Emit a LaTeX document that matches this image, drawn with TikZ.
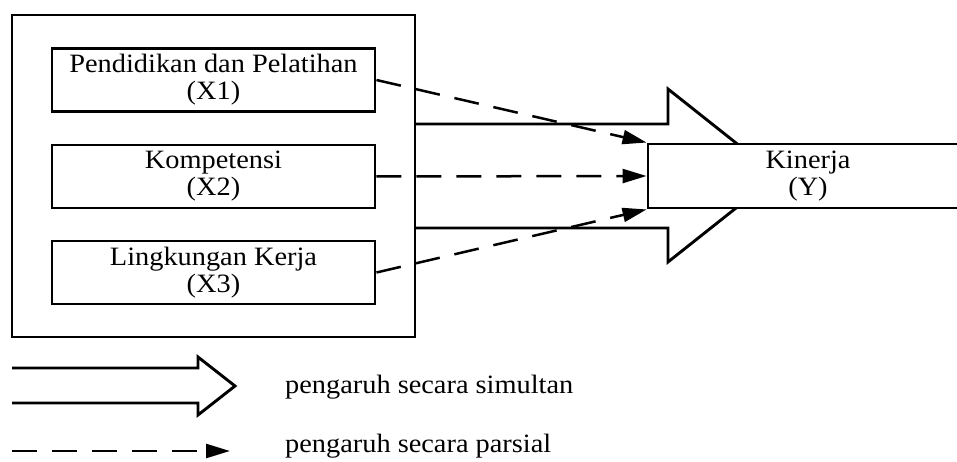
\documentclass[tikz,border=0pt]{standalone}
\usepackage{fontspec}
\setmainfont{Liberation Serif}[FakeStretch=1.07]
\usetikzlibrary{arrows.meta}

\tikzset{
  box/.style={draw, line width=2.9pt, fill=white, align=center,
              font=\fontsize{26.5}{27}\selectfont, inner sep=0pt},
  varbox/.style={box, minimum width=323pt, minimum height=63pt},
  fatarrow/.style={draw, line width=2.9pt, line join=miter},
  partial/.style={line width=2.5pt, dash pattern=on 25pt off 15pt,
                  -{Triangle[length=24pt,width=14pt]}},
  legendtext/.style={anchor=base west, inner sep=0pt,
                     font=\fontsize{26.5}{27}\selectfont}
}

\begin{document}
\begin{tikzpicture}[x=1pt, y=-1pt]
  \clip (0,0) rectangle (957,462);
  \fill[white] (0,0) rectangle (957,462);

  % simultaneous-effect arrow from the group of variables
  \draw[fatarrow] (415,124) -- (668,124) -- (668,89) -- (777,175.5)
                  -- (668,262) -- (668,228) -- (415,228);

  % group of independent variables
  \node[draw, line width=2.9pt, minimum width=403pt, minimum height=322pt,
        inner sep=0pt] (grp) at (213.5,176) {};
  \node[varbox] (x1) at (213.5,80) {Pendidikan dan Pelatihan\\(X1)};
  \node[varbox] (x2) at (213.5,176.5) {Kompetensi\\(X2)};
  \node[varbox] (x3) at (213.5,272.5) {Lingkungan Kerja\\(X3)};

  % dependent variable
  \node[box, minimum width=320pt, minimum height=64pt] (y) at (808,176)
       {Kinerja\\(Y)};

  % partial effects
  \draw[partial] (x1.east) -- (y.north west);
  \draw[partial] (x2.east) -- (y.west);
  \draw[partial] (x3.east) -- (y.south west);

  % legend
  \draw[fatarrow] (12,368) -- (198,368) -- (198,357) -- (235,386)
                  -- (198,415) -- (198,403) -- (12,403);
  \node[legendtext] (l1) at (285,393) {pengaruh secara simultan};

  \coordinate (ls) at (12,451);
  \coordinate (le) at (230,451);
  \draw[partial] (ls) -- (le);
  \node[legendtext] (l2) at (285,452) {pengaruh secara parsial};
\end{tikzpicture}
\end{document}
